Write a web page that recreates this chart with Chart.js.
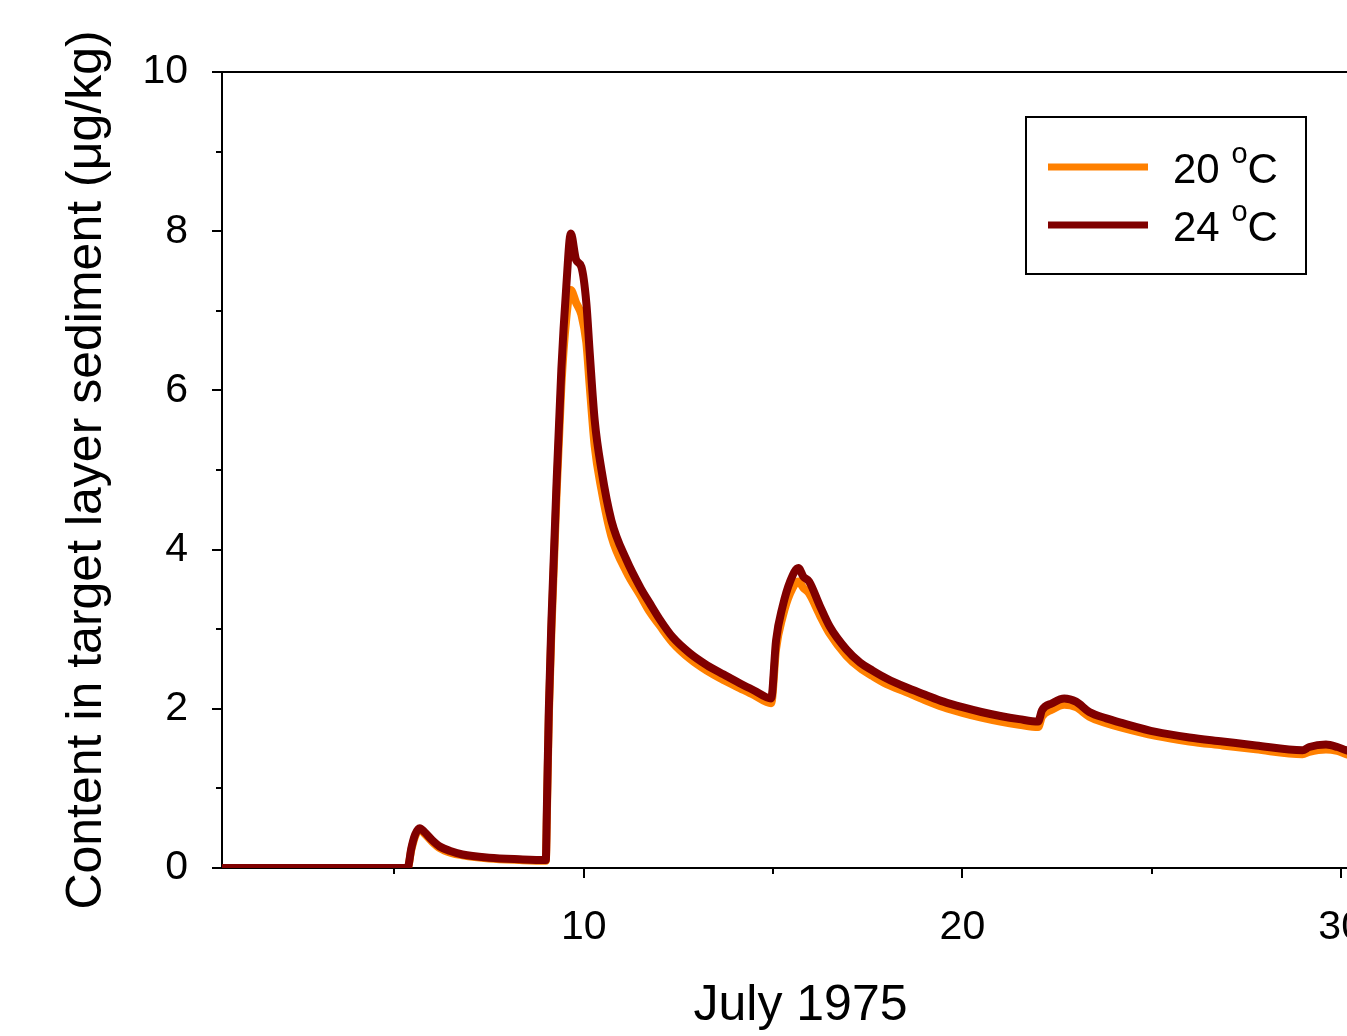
<!DOCTYPE html>
<html>
<head>
<meta charset="utf-8">
<script src="https://cdn.jsdelivr.net/npm/chart.js@4.4.0/dist/chart.umd.min.js"></script>
<style>
  html, body { margin: 0; padding: 0; background: #fff; overflow: hidden; }
  #wrap { position: relative; width: 1400px; height: 1036px; }
</style>
</head>
<body>
<div id="wrap"><canvas id="sediment-chart"></canvas></div>
<script>
// days of July 1975
const days = [0.45, 5.35, 5.45, 5.55, 5.67, 5.8, 6.0, 6.2, 6.5, 6.8, 7.5, 8.3,
    9.0, 9.03, 9.08, 9.15, 9.28, 9.41, 9.54, 9.66,
    9.8, 9.94, 10.07, 10.16, 10.29, 10.47, 10.73, 11.13, 11.5, 11.74,
    12.0, 12.35, 12.8, 13.25, 13.7, 14.12, 14.5, 14.95,
    15.08, 15.25, 15.45, 15.67, 15.8, 15.95, 16.23, 16.5, 16.93, 17.3, 17.63, 18.0, 18.51,
    19.0, 19.5, 20.0, 20.5, 21.0, 21.5, 22.0,
    22.1, 22.37, 22.69, 23.0, 23.35, 23.8, 24.23, 25.11, 25.99, 26.87, 27.75, 28.98, 29.16, 29.6, 29.9, 30.13, 30.5, 31.0];

const temp20 = [0, 0, 0.23, 0.40, 0.48, 0.43, 0.33, 0.25, 0.19, 0.16, 0.12, 0.10,
    0.09, 0.7, 1.9, 3.0, 4.65, 6.05, 6.9, 7.26,
    7.1, 6.95, 6.6, 6.05, 5.3, 4.75, 4.17, 3.72, 3.42, 3.22,
    3.05, 2.83, 2.63, 2.48, 2.36, 2.26, 2.17, 2.07,
    2.75, 3.15, 3.45, 3.6, 3.52, 3.45, 3.18, 2.94, 2.67, 2.51, 2.41, 2.31, 2.21,
    2.11, 2.02, 1.95, 1.89, 1.84, 1.80, 1.77,
    1.9, 1.99, 2.05, 2.02, 1.9, 1.82, 1.76, 1.66, 1.59, 1.54, 1.49, 1.43, 1.46, 1.49, 1.47, 1.43, 1.39, 1.35];

const temp24 = [0, 0, 0.25, 0.42, 0.50, 0.45, 0.35, 0.27, 0.21, 0.17, 0.13, 0.11,
    0.10, 0.8, 2.0, 3.12, 4.79, 6.26, 7.3, 7.97,
    7.64, 7.55, 7.1, 6.47, 5.63, 5.0, 4.37, 3.87, 3.52, 3.33,
    3.13, 2.9, 2.7, 2.55, 2.43, 2.32, 2.23, 2.13,
    2.86, 3.28, 3.6, 3.77, 3.66, 3.6, 3.3, 3.03, 2.75, 2.58, 2.48, 2.38, 2.27,
    2.18, 2.09, 2.02, 1.96, 1.91, 1.87, 1.84,
    1.98, 2.07, 2.13, 2.09, 1.96, 1.88, 1.82, 1.71, 1.64, 1.59, 1.54, 1.48, 1.52, 1.55, 1.52, 1.48, 1.44, 1.40];

const seriesLabels = ['20 °C', '24 °C'];
const seriesColors = ['#FF8000', '#800000'];

const xTicks = [10, 20, 30];
const xMinorTicks = [5, 15, 25];
const yTicks = [0, 2, 4, 6, 8, 10];
const yMinorTicks = [1, 3, 5, 7, 9];

const FONT = '"Liberation Sans", Arial, sans-serif';

function toPoints(values) {
    return days.map((d, i) => ({ x: d, y: values[i] }));
}

// minor ticks + top/right frame
const framePlugin = {
    id: 'frame',
    afterDraw(chart) {
        const ctx = chart.ctx;
        const area = chart.chartArea;
        const xs = chart.scales.x;
        const ys = chart.scales.y;
        ctx.save();
        ctx.strokeStyle = '#000';
        ctx.lineWidth = 2;
        ctx.beginPath();
        ctx.moveTo(area.left, area.top);
        ctx.lineTo(area.right, area.top);
        ctx.lineTo(area.right, area.bottom);
        ctx.stroke();

        ctx.beginPath();
        xMinorTicks.forEach(v => {
            const px = Math.round(xs.getPixelForValue(v));
            ctx.moveTo(px, area.bottom);
            ctx.lineTo(px, area.bottom + 6);
        });
        yMinorTicks.forEach(v => {
            const py = Math.round(ys.getPixelForValue(v));
            ctx.moveTo(area.left, py);
            ctx.lineTo(area.left - 6, py);
        });
        ctx.stroke();
        ctx.restore();
    }
};

// boxed legend with superscript degree
const legendPlugin = {
    id: 'boxLegend',
    afterDraw(chart) {
        const ctx = chart.ctx;
        const area = chart.chartArea;
        const w = 280, h = 157;
        const left = area.right - 73 - w;
        const top = area.top + 45;
        ctx.save();
        ctx.fillStyle = '#fff';
        ctx.fillRect(left, top, w, h);
        ctx.strokeStyle = '#000';
        ctx.lineWidth = 2;
        ctx.strokeRect(left, top, w, h);

        chart.data.datasets.forEach((ds, i) => {
            const cy = top + 50 + i * 58;
            ctx.strokeStyle = ds.borderColor;
            ctx.lineWidth = 7;
            ctx.lineCap = 'butt';
            ctx.beginPath();
            ctx.moveTo(left + 22, cy);
            ctx.lineTo(left + 122, cy);
            ctx.stroke();

            const parts = ds.label.split('°');
            let tx = left + 147;
            const base = cy + 16;
            ctx.fillStyle = '#000';
            ctx.textBaseline = 'alphabetic';
            ctx.textAlign = 'left';
            ctx.font = '42px ' + FONT;
            ctx.fillText(parts[0], tx, base);
            tx += ctx.measureText(parts[0]).width;
            ctx.font = '29px ' + FONT;
            ctx.fillText('o', tx, base - 20);
            tx += ctx.measureText('o').width;
            ctx.font = '42px ' + FONT;
            ctx.fillText(parts[1], tx, base);
        });
        ctx.restore();
    }
};

const ctx = document.getElementById('sediment-chart').getContext('2d');
new Chart(ctx, {
    type: 'scatter',
    data: {
        datasets: [
            {
                label: seriesLabels[0],
                data: toPoints(temp20),
                borderColor: seriesColors[0],
                backgroundColor: seriesColors[0],
                showLine: true,
                borderWidth: 8,
                pointRadius: 0,
                cubicInterpolationMode: 'monotone',
                borderJoinStyle: 'round',
                borderCapStyle: 'round',
                order: 1
            },
            {
                label: seriesLabels[1],
                data: toPoints(temp24),
                borderColor: seriesColors[1],
                backgroundColor: seriesColors[1],
                showLine: true,
                borderWidth: 8,
                pointRadius: 0,
                cubicInterpolationMode: 'monotone',
                borderJoinStyle: 'round',
                borderCapStyle: 'round',
                order: 0
            }
        ]
    },
    options: {
        responsive: true,
        maintainAspectRatio: false,
        animation: false,
        layout: { padding: { top: 72, right: 21, left: 0, bottom: 0 } },
        plugins: {
            legend: { display: false },
            tooltip: { enabled: false }
        },
        scales: {
            x: {
                type: 'linear',
                position: 'bottom',
                min: 0.45,
                max: 31,
                afterBuildTicks: s => { s.ticks = xTicks.map(v => ({ value: v })); },
                afterFit: s => { s.height = 168; },
                grid: { drawOnChartArea: false, drawTicks: true, tickLength: 10, color: '#000', lineWidth: 2 },
                border: { display: true, color: '#000', width: 2 },
                ticks: { color: '#000', padding: 25, maxRotation: 0, font: { family: FONT, size: 41 } },
                title: {
                    display: true,
                    text: 'July 1975',
                    color: '#000',
                    font: { family: FONT, size: 50 },
                    padding: { top: 0, bottom: 0 }
                }
            },
            y: {
                min: 0,
                max: 10,
                afterBuildTicks: s => { s.ticks = yTicks.map(v => ({ value: v })); },
                afterFit: s => { s.width = 222; },
                grid: { drawOnChartArea: false, drawTicks: true, tickLength: 10, color: '#000', lineWidth: 2 },
                border: { display: true, color: '#000', width: 2 },
                ticks: { color: '#000', padding: 24, font: { family: FONT, size: 41 } },
                title: {
                    display: true,
                    text: 'Content in target layer sediment (μg/kg)',
                    color: '#000',
                    font: { family: FONT, size: 50 },
                    padding: { top: 57, bottom: 57 }
                }
            }
        }
    },
    plugins: [framePlugin, legendPlugin]
});
</script>
</body>
</html>
